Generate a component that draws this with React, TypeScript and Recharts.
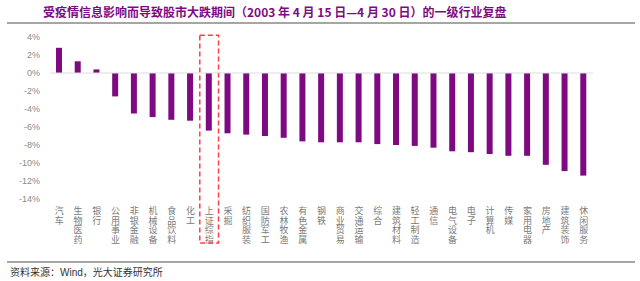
import { BarChart, Bar, XAxis, YAxis, ReferenceLine, ReferenceArea } from "recharts";

const industries = [
  "汽车", "生物医药", "银行", "公用事业", "非银金融", "机械设备", "食品饮料", "化工",
  "上证综指", "采掘", "纺织服装", "国防军工", "农林牧渔", "有色金属", "钢铁", "商业贸易",
  "交通运输", "综合", "建筑材料", "轻工制造", "通信", "电气设备", "电子", "计算机",
  "传媒", "家用电器", "房地产", "建筑装饰", "休闲服务",
];

// 区间涨跌幅（%）
const changes = [
  2.8, 1.3, 0.4, -2.6, -4.5, -4.9, -5.2, -5.3,
  -6.4, -6.7, -6.85, -7.0, -7.2, -7.6, -7.7, -7.7,
  -7.7, -7.9, -8.0, -8.1, -8.3, -8.7, -8.8, -9.0,
  -9.2, -9.2, -10.2, -10.9, -11.4,
];

const yTicks = [4, 2, 0, -2, -4, -6, -8, -10, -12, -14];
const highlighted = "上证综指";

const data = industries.map((name, i) => ({ name, value: changes[i] }));

const PURPLE = "#7e0a82";
const FONT = "'Noto Sans CJK SC', 'Noto Sans', sans-serif";

// 竖排行业名称
function VerticalTick(props: any) {
  const { x, y, payload } = props;
  return (
    <text
      x={x}
      y={y + 1}
      fontSize={9}
      fill="#7a7a7a"
      fontFamily={FONT}
      letterSpacing={0.6}
      style={{ writingMode: "vertical-rl" }}
    >
      {payload.value}
    </text>
  );
}

export default function App() {
  return (
    <div
      style={{
        position: "fixed",
        left: 0,
        top: 0,
        width: 640,
        height: 281,
        background: "#fff",
        fontFamily: FONT,
      }}
    >
      <div
        style={{
          position: "absolute",
          left: 43,
          top: 4,
          fontSize: 12,
          fontWeight: 700,
          color: PURPLE,
          whiteSpace: "nowrap",
          lineHeight: "16px",
        }}
      >
        受疫情信息影响而导致股市大跌期间（2003 年 4 月 15 日—4 月 30 日）的一级行业复盘
      </div>
      <div style={{ position: "absolute", left: 7, top: 22, width: 628, height: 2, background: "#a6a6a6" }} />

      <div style={{ position: "absolute", left: 0, top: 0 }}>
        <BarChart
          width={640}
          height={250}
          data={data}
          margin={{ top: 37, right: 47, bottom: 0, left: 0 }}
          barCategoryGap={0}
        >
          <XAxis
            dataKey="name"
            interval={0}
            axisLine={false}
            tickLine={false}
            tick={<VerticalTick />}
            tickMargin={0}
            height={51}
          />
          <YAxis
            domain={[-14, 4]}
            ticks={yTicks}
            interval={0}
            axisLine={false}
            tickLine={false}
            width={50}
            tickMargin={4}
            tickFormatter={(v: number) => `${v}%`}
            tick={{ fontSize: 9, fill: "#8a8a8a", fontFamily: "Arial, 'Liberation Sans', sans-serif" }}
          />
          <ReferenceLine y={0} stroke="#dcdcdc" strokeWidth={1} />
          <Bar dataKey="value" fill={PURPLE} barSize={6} isAnimationActive={false} />
          <ReferenceArea
            x1={highlighted}
            x2={highlighted}
            y1={4.2}
            y2={-18.9}
            ifOverflow="visible"
            fill="none"
            stroke="#ff3b4a"
            strokeWidth={1.5}
            strokeDasharray="5 3"
          />
        </BarChart>
      </div>

      <div style={{ position: "absolute", left: 7, top: 261, width: 628, height: 2, background: "#a6a6a6" }} />
      <div
        style={{
          position: "absolute",
          left: 10,
          top: 265,
          fontSize: 10,
          color: "#333",
          whiteSpace: "nowrap",
          lineHeight: "13px",
        }}
      >
        资料来源：<span style={{ fontFamily: "Arial, 'Liberation Sans', sans-serif" }}>Wind</span>，光大证券研究所
      </div>
    </div>
  );
}
